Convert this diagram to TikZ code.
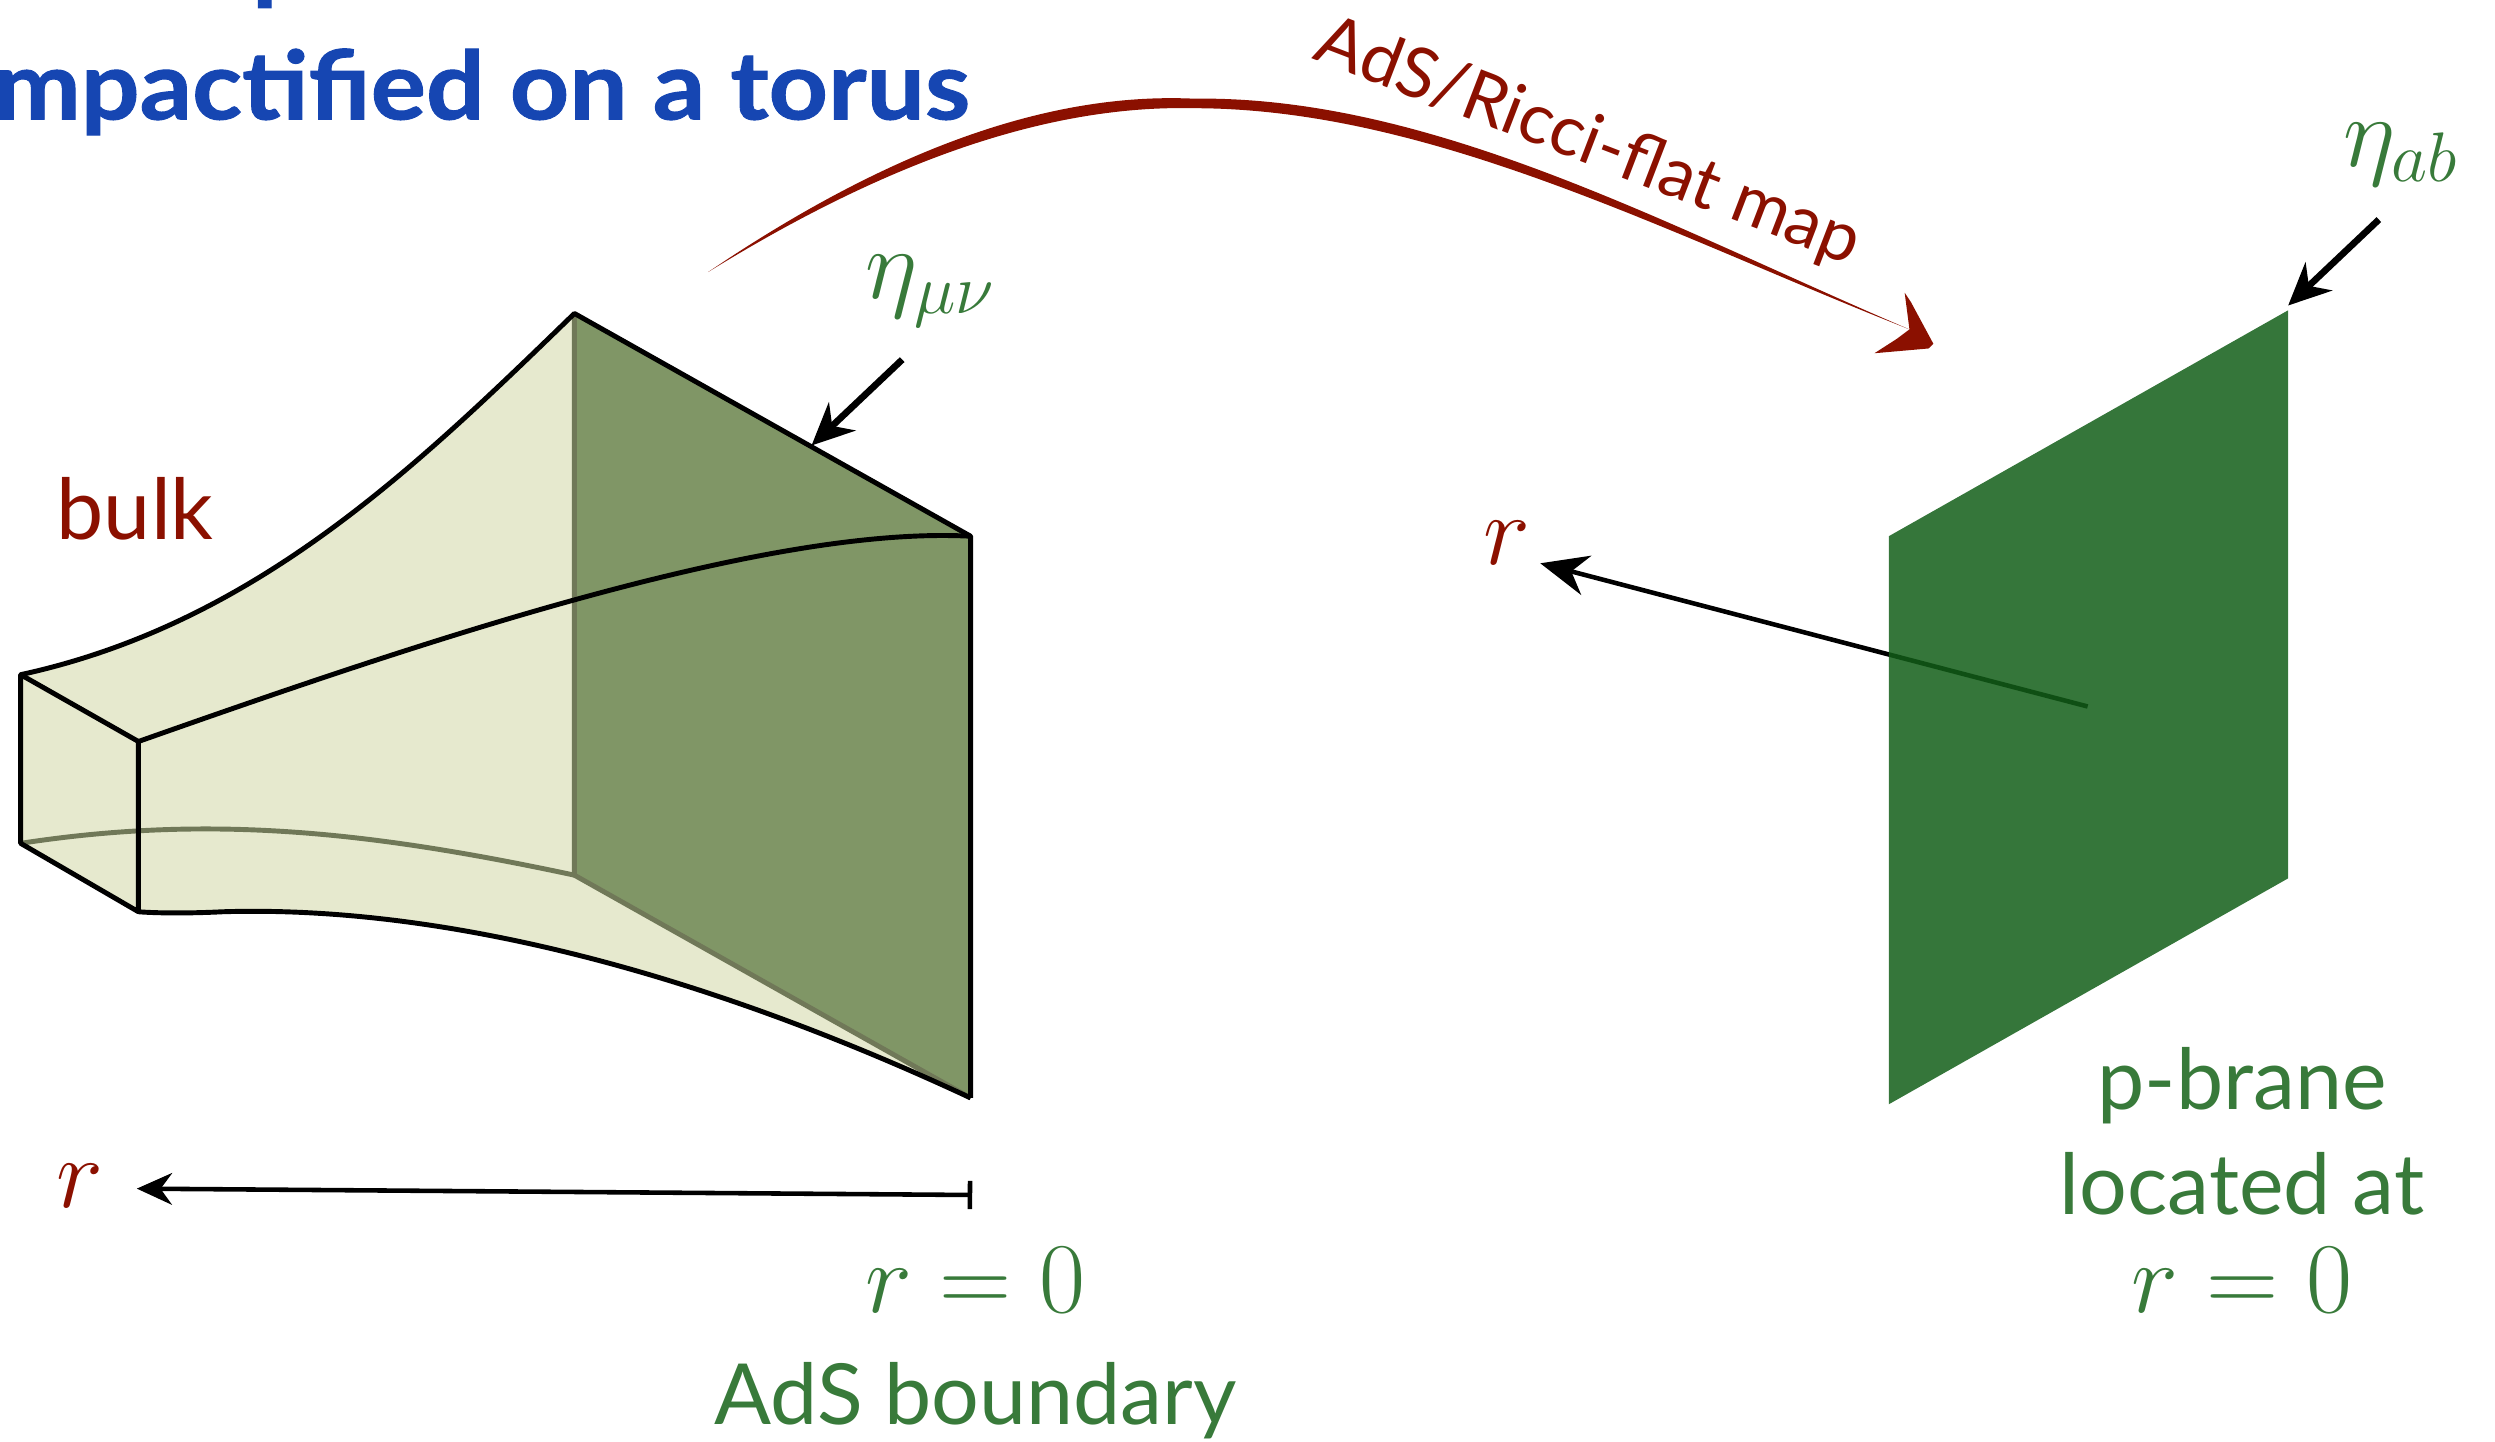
\RequirePackage{fix-cm}
\documentclass[tikz,border=0pt]{standalone}
\usepackage[no-math]{fontspec}
\setmainfont{Lato}
\newfontfamily\titlefont[FakeStretch=1.09,BoldFeatures={FakeBold=1.0}]{Lato}
\usepackage{amsmath}
\usetikzlibrary{arrows.meta}
\definecolor{titleblue}{RGB}{22,70,178}
\definecolor{darkred}{RGB}{139,16,0}
\definecolor{branegreen}{RGB}{18,94,24}
\definecolor{labelgreen}{RGB}{56,122,58}
\definecolor{bulkfill}{RGB}{230,233,206}
\definecolor{sliceFill}{RGB}{128,150,102}
\definecolor{sliceEdge}{RGB}{112,120,88}
\begin{document}
\begin{tikzpicture}[x=0.015912cm, y=-0.015912cm, >=Stealth]
  \tikzstyle{titletext} = [font=\fontsize{27}{31}\selectfont\titlefont\bfseries\color{titleblue}, inner sep=0pt]
  \tikzstyle{greentext} = [font=\fontsize{24}{28}\selectfont\color{labelgreen}, inner sep=0pt]
  \tikzstyle{redtext} = [font=\fontsize{24}{28}\selectfont\color{darkred}, inner sep=0pt]
  \tikzstyle{greenmath} = [font=\fontsize{28.5}{34}\selectfont\color{labelgreen}, inner sep=0pt]
  \tikzstyle{redmath} = [font=\fontsize{28.5}{34}\selectfont\color{darkred}, inner sep=0pt]
  \tikzstyle{edge} = [draw=black, line width=1.4pt, line join=round]
  \tikzstyle{faint} = [draw=sliceEdge, line width=1.4pt]
  \tikzstyle{pointer} = [->, line width=1.9pt, >={Stealth[length=12pt, width=11pt]}]

  \useasboundingbox (0,0) rectangle (1568,906);

  % Corners of the bulk
  \coordinate (backtop) at (13,424);
  \coordinate (backfront) at (87,466);
  \coordinate (lowfront) at (87,573);
  \coordinate (lowback) at (13,530);
  \coordinate (sliceA) at (361,197);
  \coordinate (sliceB) at (610,337);
  \coordinate (sliceC) at (610,690);
  \coordinate (sliceD) at (361,550);

  % Bulk fill and boundary slice
  \fill[bulkfill] (backtop) .. controls (160,392) and (260,295) .. (sliceA) -- (sliceB) -- (sliceC)
    .. controls (430,606) and (270,569) .. (140,573) .. controls (120,574) and (100,574) .. (lowfront) -- (lowback) -- cycle;
  \fill[sliceFill] (sliceA) -- (sliceB) -- (sliceC) -- (sliceD) -- cycle;

  % Lines seen through the slice
  \draw[faint] (lowback) .. controls (130,512) and (230,522) .. (sliceD);
  \draw[faint] (sliceA) -- (sliceD) -- (sliceC);

  % Bulk outline
  \draw[edge] (backtop) .. controls (160,392) and (260,295) .. (sliceA) -- (sliceB) -- (sliceC);
  \draw[edge] (backfront) .. controls (260,405) and (480,330) .. (sliceB);
  \draw[edge] (sliceC) .. controls (430,606) and (270,569) .. (140,573) .. controls (120,574) and (100,574) .. (lowfront);
  \draw[edge] (backtop) -- (backfront) -- (lowfront) -- (lowback) -- cycle;

  % Brane
  \coordinate (braneA) at (1438,195);
  \coordinate (braneB) at (1438,552);
  \coordinate (braneC) at (1187,694);
  \coordinate (braneD) at (1187,337);
  \coordinate (axisstart) at (1312,444);
  \coordinate (axisend) at (968,354);
  \node[redmath] (rright) at (947,341) {$r$};
  \draw[->, line width=1.3pt, >={Stealth[length=13.5pt, width=11.5pt]}] (axisstart) -- (axisend);
  \fill[branegreen, fill opacity=0.85] (braneA) -- (braneB) -- (braneC) -- (braneD) -- cycle;

  % Map between the two pictures
  \coordinate (mapstart) at (445,171);
  \coordinate (maptop) at (750,62);
  \coordinate (mapend) at (1200,207);
  \fill[darkred] (mapstart) .. controls (560,93) and (660,58) .. (maptop)
    .. controls (900,60) and (1050,143) .. (mapend)
    .. controls (1050,148) and (900,68) .. (750,68) .. controls (660,66) and (560,100) .. cycle;
  \fill[darkred] (1197,184) -- (1201,190) -- (1215,216) -- (1212,219) -- (1178,222) -- (1192,213) -- (mapend) -- cycle;
  \node[font=\fontsize{20}{24}\selectfont\color{darkred}, inner sep=0pt, rotate=-21] (maplabel) at (998,90) {AdS/Ricci-flat map};

  % Labels
  \node[titletext, anchor=base east] (titletwo) at (610,75) {mpactified on a torus};
  \node[titletext, anchor=base west] (titleone) at (158,-5) {p};
  \node[redtext] (bulklabel) at (85,320) {bulk};
  \node[redmath] (rleft) at (50,745) {$r$};
  \node[greenmath] (etaslice) at (585,183) {$\eta_{\mu\nu}$};
  \node[greenmath] (etabrane) at (1509,97) {$\eta_{ab}$};
  \node[greenmath, anchor=base] (rzero) at (613,825) {$r=0$};
  \node[greentext, anchor=base] (boundary) at (613,895) {AdS boundary};
  \node[greentext, anchor=base] (pbrane) at (1409,697) {p-brane};
  \node[greentext, anchor=base] (located) at (1409,763) {located at};
  \node[greenmath, anchor=base] (rbrane) at (1409,825) {$r=0$};

  % Arrows
  \coordinate (axiszero) at (611,751);
  \coordinate (axisleft) at (86,747);
  \coordinate (etasliceend) at (510,280);
  \coordinate (etaslicefrom) at (567,226);
  \coordinate (etabraneend) at (1438,192);
  \coordinate (etabranefrom) at (1495,138);
  \draw[line width=1.3pt, {Stealth[length=10pt, width=9pt]}-{Bar[width=8pt]}] (axisleft) -- (axiszero);
  \draw[pointer] (etaslicefrom) -- (etasliceend);
  \draw[pointer] (etabranefrom) -- (etabraneend);
\end{tikzpicture}
\end{document}
